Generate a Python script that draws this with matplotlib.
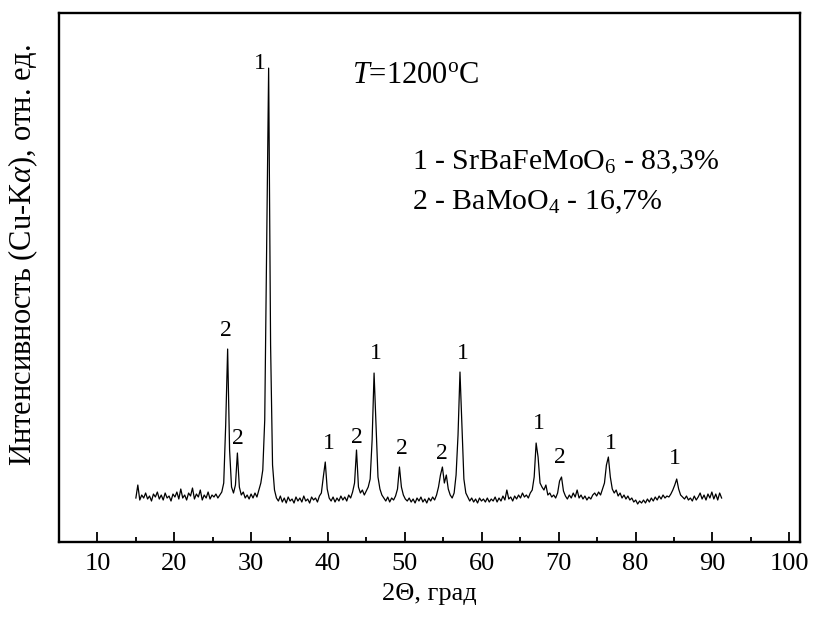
import numpy as np
import matplotlib
matplotlib.use("Agg")
import matplotlib.pyplot as plt

plt.rcParams['font.family'] = ['Liberation Serif', 'DejaVu Serif']
plt.rcParams['mathtext.fontset'] = 'custom'
plt.rcParams['mathtext.rm'] = 'Liberation Serif'
plt.rcParams['mathtext.it'] = 'Liberation Serif:italic'

# intensity, one row per ~5 degrees (scan runs 15..91.2 deg)
i_15 = [47, 60, 45, 50, 47, 52, 46, 49, 44, 51, 48, 53, 46, 50, 45, 52, 47, 49, 44, 51]
i_20 = [48, 53, 46, 56, 47, 50, 45, 52, 49, 57, 46, 51, 48, 55, 45, 50, 47, 53, 46, 50]
i_25 = [48, 51, 47, 50, 53, 62, 120, 196, 95, 58, 52, 60, 92, 58, 50, 53, 47, 50, 46, 51]
i_30 = [47, 52, 48, 55, 62, 75, 125, 300, 477, 200, 80, 55, 47, 44, 49, 43, 47, 42, 48, 44]
i_35 = [46, 42, 48, 44, 47, 43, 49, 44, 46, 42, 48, 45, 47, 43, 49, 52, 68, 83, 56, 47]
i_40 = [44, 48, 43, 47, 44, 49, 45, 48, 44, 50, 47, 53, 62, 95, 58, 52, 55, 50, 54, 58]
i_45 = [66, 105, 172, 120, 68, 56, 50, 47, 44, 48, 43, 47, 45, 49, 56, 78, 58, 50, 46, 44]
i_50 = [47, 43, 46, 42, 47, 44, 48, 43, 46, 42, 47, 44, 48, 45, 50, 58, 70, 78, 62, 70]
i_55 = [56, 50, 47, 52, 70, 110, 173, 120, 66, 52, 48, 44, 47, 43, 46, 42, 47, 44, 46, 43]
i_60 = [47, 43, 46, 44, 48, 43, 47, 44, 49, 45, 55, 46, 48, 44, 49, 46, 50, 47, 52, 48]
i_65 = [50, 47, 52, 55, 68, 102, 88, 62, 58, 55, 60, 50, 52, 48, 50, 47, 52, 64, 68, 54]
i_70 = [49, 46, 50, 47, 52, 48, 55, 47, 50, 46, 49, 45, 48, 46, 50, 52, 49, 53, 50, 56]
i_75 = [62, 80, 88, 68, 56, 52, 55, 49, 52, 47, 50, 46, 49, 45, 47, 43, 45, 41, 44, 42]
i_80 = [45, 42, 46, 43, 47, 44, 48, 45, 49, 46, 50, 47, 49, 48, 51, 55, 60, 66, 56, 50]
i_85 = [48, 46, 49, 45, 47, 44, 49, 45, 48, 52, 46, 50, 45, 51, 47, 53, 46, 51, 45, 52]
i_90 = [47]

intensity = np.array(i_15 + i_20 + i_25 + i_30 + i_35 + i_40 + i_45 + i_50
                     + i_55 + i_60 + i_65 + i_70 + i_75 + i_80 + i_85 + i_90)
two_theta = np.linspace(15.0, 91.2, len(intensity))

# phase labels over the peaks
peak_x = [26.76, 28.32, 31.19, 40.05, 43.78, 46.25, 49.54, 54.84, 57.53, 67.38, 70.21, 76.76, 85.09]
peak_y = [215, 107, 482, 102, 108, 192, 97, 92, 192, 122, 88, 102, 87]
peak_phase = ['2', '2', '1', '1', '2', '1', '2', '2', '1', '1', '2', '1', '1']

fig = plt.figure(figsize=(8.24, 6.24), dpi=100)
ax = fig.add_axes([0.0716, 0.1314, 0.8993, 0.8476])

ax.plot(two_theta, intensity, color='black', linewidth=0.9)

for x, y, s in zip(peak_x, peak_y, peak_phase):
    ax.text(x, y, s, fontsize=17, ha='center', va='center')

ax.text(43.16, 470, r'$T$=1200$^{\mathrm{o}}$C', fontsize=22, va='center')
ax.text(50.98, 383, r'1 - SrBaFeMoO$_6$ - 83,3%', fontsize=21.5, va='center')
ax.text(50.98, 343, r'2 - BaMoO$_4$ - 16,7%', fontsize=21.5, va='center')

ax.set_xlim(5, 101.4)
ax.set_ylim(3, 532)
ax.set_xticks(np.arange(10, 101, 10))
ax.set_xticks(np.arange(5, 101, 5), minor=True)
ax.set_yticks([])
ax.tick_params(axis='x', direction='in', length=7, width=1.3, labelsize=19, pad=8)
ax.tick_params(axis='x', which='minor', direction='in', length=3.5, width=1.3)
for sp in ax.spines.values():
    sp.set_linewidth(1.7)

ax.set_xlabel('2\u0398, град', fontsize=19, labelpad=6)
ax.set_ylabel(r'Интенсивность (Cu-K$\alpha$), отн. ед.', fontsize=22)
ax.yaxis.set_label_coords(-0.026, 0.543)

fig.savefig('out.png', dpi=100)
